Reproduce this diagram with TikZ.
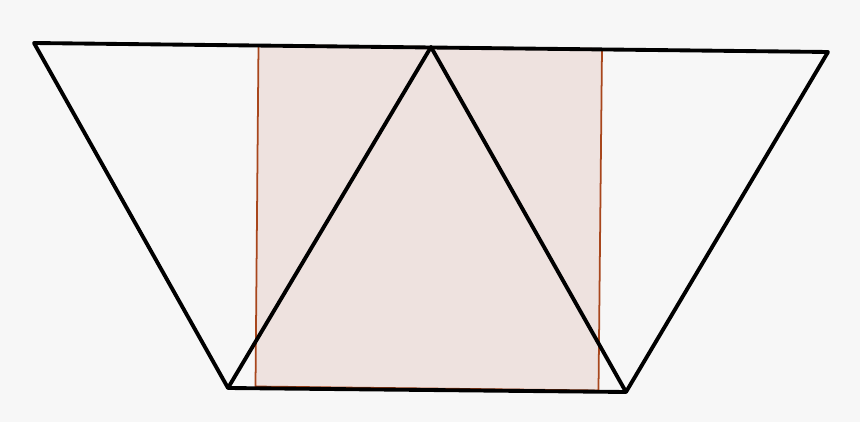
\documentclass[tikz,border=0pt]{standalone}
\usepackage{tikz}
\definecolor{bgcol}{HTML}{F7F7F7}
\definecolor{sqfill}{HTML}{EEE2DF}
\definecolor{sqedge}{HTML}{A8461C}
\begin{document}
\begin{tikzpicture}[x=0.02cm,y=-0.02cm,line join=round]
	 \fill[bgcol] (0,0) rectangle (860,422);
	 \useasboundingbox (0,0) rectangle (860,422);
	 \coordinate (A) at (34,43);
	 \coordinate (B) at (431,47);
	 \coordinate (C) at (828,52);
	 \coordinate (D) at (228,388);
	 \coordinate (E) at (626,392);
	 \draw[sqedge,fill=sqfill,line width=1pt] (258.5,45) -- (602,49) -- (598.5,390.5) -- (255.5,386.5) -- cycle;
	 \draw[line width=2.2pt] (A) -- (C) -- (E) -- (D) -- cycle;
	 \draw[line width=2.2pt] (D) -- (B) -- (E);
\end{tikzpicture}
\end{document}
